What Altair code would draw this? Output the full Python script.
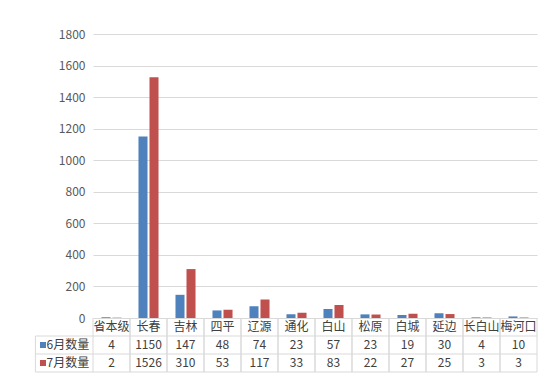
import altair as alt
import pandas as pd

cats = ["省本级", "长春", "吉林", "四平", "辽源", "通化", "白山", "松原", "白城", "延边", "长白山", "梅河口"]
series = ["6月数量", "7月数量"]
june = [4, 1150, 147, 48, 74, 23, 57, 23, 19, 30, 4, 10]
july = [2, 1526, 310, 53, 117, 33, 83, 22, 27, 25, 3, 3]
yticks = [0, 200, 400, 600, 800, 1000, 1200, 1400, 1600, 1800]
colors = ["#4F81BD", "#C0504D"]

FONT = "Noto Sans CJK SC"
W, H = 444, 284
ROW_TOP, ROW_BOT = H, H + 54
HEAD_W = 57.6

rows = []
for i, c in enumerate(cats):
    rows.append({"cat": c, "series": series[0], "value": june[i], "row": 1})
    rows.append({"cat": c, "series": series[1], "value": july[i], "row": 2})
df = pd.DataFrame(rows)
cat_df = pd.DataFrame({"cat": cats, "row": [0] * len(cats)})
leg_df = pd.DataFrame({"series": series, "row": [1, 2]})

xs = alt.Scale(domain=cats, paddingInner=0, paddingOuter=0)
ys_tab = alt.Scale(type="band", domain=[0, 1, 2], range=[ROW_TOP, ROW_BOT], paddingInner=0, paddingOuter=0)
grid_c = "#D9D9D9"
txt_c = "#404040"

bars = alt.Chart(df).mark_bar().encode(
    x=alt.X("cat:N", sort=cats, scale=xs, axis=None),
    xOffset=alt.XOffset("series:N", sort=series, scale=alt.Scale(paddingInner=0.18, paddingOuter=0.77)),
    y=alt.Y("value:Q", scale=alt.Scale(domain=[0, 1800]),
            axis=alt.Axis(values=yticks, format="d", title=None, domain=False, ticks=False, labelPadding=8,
                          labelFont=FONT, labelFontSize=12, labelColor="#595959",
                          gridColor=grid_c, gridWidth=1)),
    color=alt.Color("series:N", scale=alt.Scale(domain=series, range=colors), legend=None),
)

cat_text = alt.Chart(cat_df).mark_text(font=FONT, fontSize=12, color=txt_c).encode(
    x=alt.X("cat:N", sort=cats, scale=xs, axis=None, bandPosition=0.5),
    y=alt.Y("row:O", scale=ys_tab, axis=None, bandPosition=0.5),
    text="cat:N",
)

val_text = alt.Chart(df).mark_text(font=FONT, fontSize=12, color=txt_c).encode(
    x=alt.X("cat:N", sort=cats, scale=xs, axis=None, bandPosition=0.5),
    y=alt.Y("row:O", scale=ys_tab, axis=None, bandPosition=0.5),
    text="value:Q",
)

leg_sq = alt.Chart(leg_df).mark_square(size=36, opacity=1).encode(
    x=alt.value(-50),
    y=alt.Y("row:O", scale=ys_tab, axis=None, bandPosition=0.5),
    color=alt.Color("series:N", scale=alt.Scale(domain=series, range=colors), legend=None),
)
leg_txt = alt.Chart(leg_df).mark_text(font=FONT, fontSize=12, color=txt_c, align="left").encode(
    x=alt.value(-46.5),
    y=alt.Y("row:O", scale=ys_tab, axis=None, bandPosition=0.5),
    text="series:N",
)

vlines0 = alt.Chart(cat_df).mark_rule(color=grid_c, strokeWidth=1).encode(
    x=alt.X("cat:N", sort=cats, scale=xs, axis=None, bandPosition=0),
    y=alt.value(ROW_TOP), y2=alt.value(ROW_BOT),
)
vlines1 = alt.Chart(cat_df).mark_rule(color=grid_c, strokeWidth=1).encode(
    x=alt.X("cat:N", sort=cats, scale=xs, axis=None, bandPosition=1),
    y=alt.value(ROW_TOP), y2=alt.value(ROW_BOT),
)
hl0 = alt.Chart(leg_df).mark_rule(color=grid_c, strokeWidth=1).encode(
    y=alt.Y("row:O", scale=ys_tab, axis=None, bandPosition=0),
    x=alt.value(-HEAD_W), x2=alt.value(W),
)
hl1 = alt.Chart(leg_df[leg_df["row"] == 2]).mark_rule(color=grid_c, strokeWidth=1).encode(
    y=alt.Y("row:O", scale=ys_tab, axis=None, bandPosition=1),
    x=alt.value(-HEAD_W), x2=alt.value(W),
)
left_line = alt.Chart(leg_df[leg_df["row"] == 1]).mark_rule(color=grid_c, strokeWidth=1).encode(
    x=alt.value(-HEAD_W),
    y=alt.value(ROW_TOP + 18), y2=alt.value(ROW_BOT),
)

chart = alt.layer(
    bars, vlines0, vlines1, hl0, hl1, left_line, cat_text, val_text, leg_sq, leg_txt
).resolve_scale(y="independent").properties(
    width=W, height=H,
    background="white",
    autosize=alt.AutoSizeParams(type="none"),
    padding={"left": 85, "top": 26, "right": 1, "bottom": 56},
).configure_view(strokeWidth=0).configure_axis(domain=False)

chart.save("out.html", embed_options={"renderer": "svg", "actions": False})
